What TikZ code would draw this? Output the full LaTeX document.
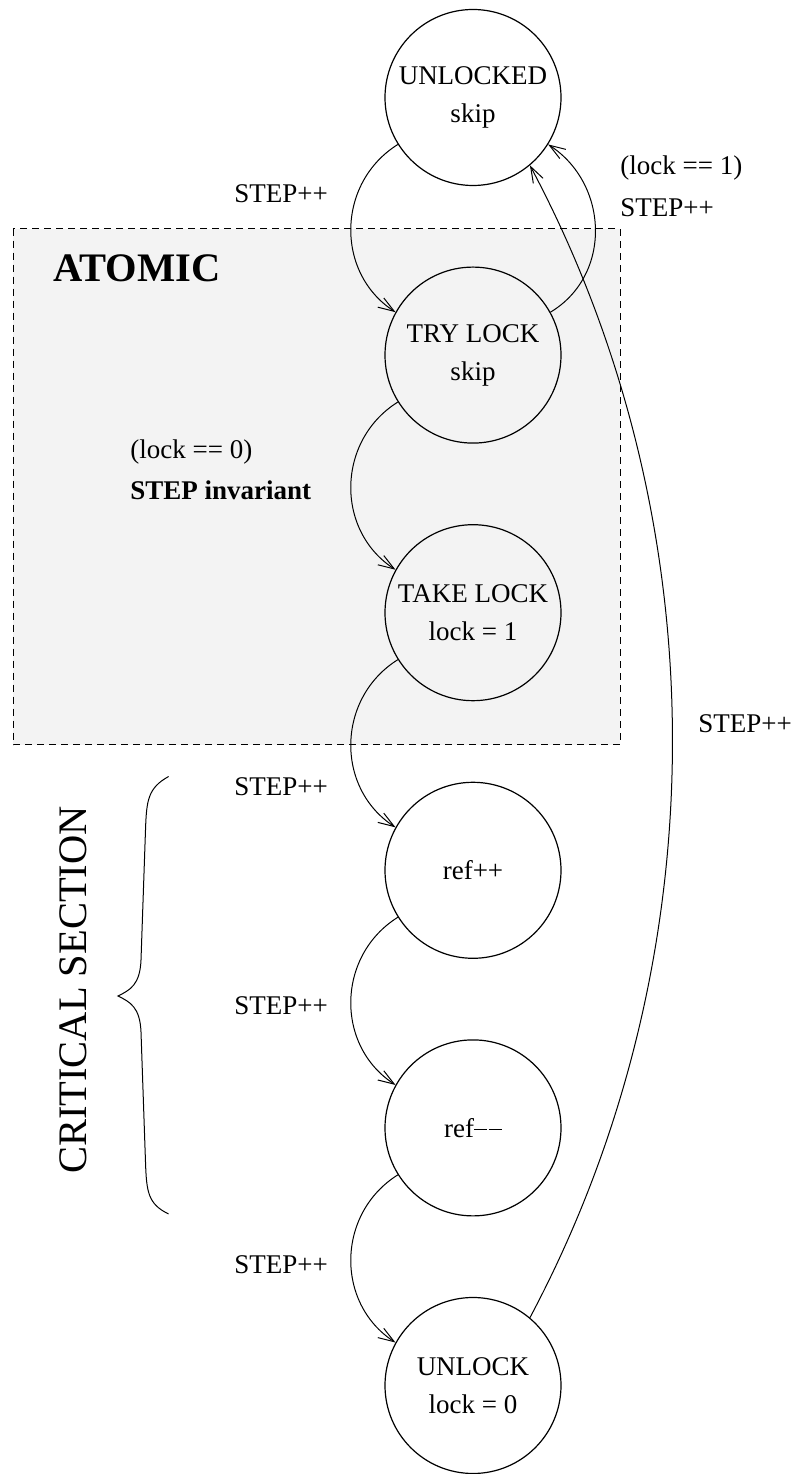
\documentclass[tikz,border=0pt]{standalone}
\usepackage{fontspec}
\setmainfont{Liberation Serif}
\usetikzlibrary{arrows.meta}
\definecolor{atomfill}{RGB}{243,243,243}
\newcommand{\dbldash}{\rule[3.5pt]{6.6pt}{0.6pt}\kern0.7pt\rule[3.5pt]{6.6pt}{0.6pt}}
\tikzset{
  state/.style={circle, draw, line width=0.6pt, minimum size=88pt, inner sep=0pt,
    align=center, font=\fontsize{13.5}{19}\selectfont},
  edge/.style={line width=0.5pt, -{Straight Barb[length=8pt,width=5.5pt]}},
  lbl/.style={anchor=base west, inner sep=0pt, font=\fontsize{13.5}{16.5}\selectfont},
  bigl/.style={inner sep=0pt, font=\fontsize{20.25}{24}\selectfont},
}
\begin{document}
\begin{tikzpicture}[x=0.5pt, y=0.5pt]
  \useasboundingbox (0,0) rectangle (795,1474);

  % atomic region
  \draw[fill=atomfill, line width=0.5pt, dash pattern=on 3.5pt off 2.5pt]
    (13,1245.4) rectangle (620,729.4);
  \node[bigl, anchor=base west, font=\fontsize{20.25}{24}\selectfont\bfseries] (atomic) at (53,1192) {ATOMIC};

  % states
  \node[state] (unlocked) at (473,1376.5) {UNLOCKED\\skip};
  \node[state] (trylock)  at (473,1118.9) {TRY LOCK\\skip};
  \node[state] (takelock) at (473,861.3)  {TAKE LOCK\\lock = 1};
  \node[state] (refinc)   at (473,603.7)  {ref++};
  \node[state] (refdec)   at (473,346.1)  {ref\dbldash};
  \node[state] (unlock)   at (473,88.5)   {UNLOCK\\lock = 0};

  % transitions down the left side
  \draw[edge] (unlocked.-148) to[out=212, in=147, looseness=1.1] (trylock.151);
  \draw[edge] (trylock.-148)  to[out=212, in=147, looseness=1.1] (takelock.151);
  \draw[edge] (takelock.-148) to[out=212, in=147, looseness=1.1] (refinc.151);
  \draw[edge] (refinc.-148)   to[out=212, in=147, looseness=1.1] (refdec.151);
  \draw[edge] (refdec.-148)   to[out=212, in=147, looseness=1.1] (unlock.151);

  % back edges
  \draw[edge] (trylock.29) to[out=31, in=-33, looseness=1.1] (unlocked.-32);
  \draw[edge] (unlock.50) to[out=62, in=-62, looseness=0.9] (unlocked.-50);

  % transition labels
  \node[lbl] (l1) at (234,1271) {STEP++};
  \node[lbl] (l2a) at (620,1299) {(lock == 1)};
  \node[lbl] (l2b) at (620,1257) {STEP++};
  \node[lbl] (l3a) at (130,1015) {(lock == 0)};
  \node[lbl, font=\fontsize{13.5}{16.5}\selectfont\bfseries] (l3b) at (130,974) {STEP invariant};
  \node[lbl] (l4) at (234,678) {STEP++};
  \node[lbl] (l5) at (234,459) {STEP++};
  \node[lbl] (l6) at (234,200) {STEP++};
  \node[lbl] (l7) at (698,741) {STEP++};

  % critical section brace and title
  \draw[line width=0.5pt] (168.6,697.5) .. controls (148,686) and (146.5,674) .. (145.5,644)
    -- (141,514) .. controls (140,489) and (130,484) .. (118,478)
    .. controls (130,472) and (140,467) .. (141,442)
    -- (145.5,312) .. controls (146.5,282) and (148,270) .. (168.6,260);
  \node[bigl, anchor=base, rotate=90] (crit) at (86,484) {CRITICAL SECTION};
\end{tikzpicture}
\end{document}
